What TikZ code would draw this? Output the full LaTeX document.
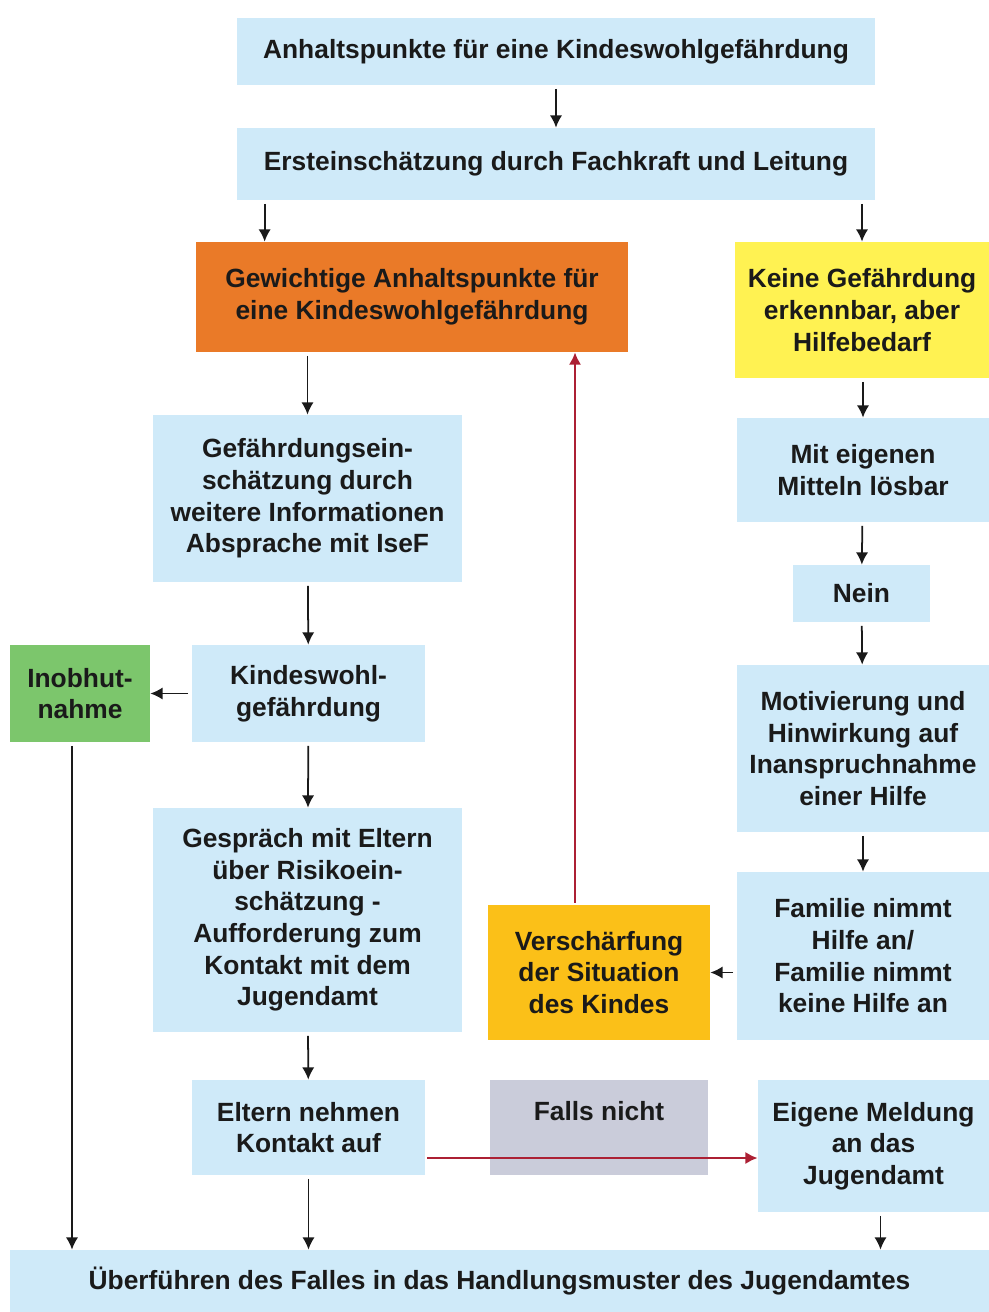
\documentclass[tikz,border=0pt]{standalone}
\usepackage{fontspec}
\setmainfont{Liberation Sans}
\usetikzlibrary{arrows.meta}

\definecolor{hellblau}{RGB}{207,234,249}
\definecolor{dunkelorange}{RGB}{234,122,40}
\definecolor{hellgelb}{RGB}{255,242,82}
\definecolor{goldgelb}{RGB}{251,192,24}
\definecolor{gruen}{RGB}{124,198,108}
\definecolor{grau}{RGB}{202,204,218}
\definecolor{rotlinie}{RGB}{172,32,52}
\definecolor{schrift}{RGB}{26,26,26}

\tikzset{
    kasten/.style={fill=hellblau, text=schrift, align=center, inner sep=0pt,
        font=\bfseries\fontsize{15}{18}\selectfont},
    pfeil/.style={->, line width=1pt, draw=schrift, shorten <=2pt},
    rotpfeil/.style={->, line width=1.3pt, draw=rotlinie, shorten <=1pt},
}

\begin{document}
\begin{tikzpicture}[>={Latex[length=7pt,width=7pt]}]
            \useasboundingbox (0,0) rectangle (19.78,-26.24);

            % linke Spalte
            \node[kasten, minimum width=12.76cm, minimum height=1.34cm] (anhalt) at (11.12,-1.03) {Anhaltspunkte für eine Kindeswohlgefährdung};
            \node[kasten, minimum width=12.76cm, minimum height=1.44cm] (erst) at (11.12,-3.28) {Ersteinschätzung durch Fachkraft und Leitung};
            \node[kasten, fill=dunkelorange, minimum width=8.64cm, minimum height=2.2cm] (gewichtig) at (8.24,-5.94) {Gewichtige Anhaltspunkte für\\eine Kindeswohlgefährdung};
            \node[kasten, minimum width=6.18cm, minimum height=3.34cm] (einschaetzung) at (6.15,-9.97) {Gefährdungsein-\\schätzung durch\\weitere Informationen\\Absprache mit IseF};
            \node[kasten, fill=gruen, minimum width=2.8cm, minimum height=1.94cm] (inobhut) at (1.6,-13.87) {Inobhut-\\nahme};
            \node[kasten, minimum width=4.66cm, minimum height=1.94cm] (kwg) at (6.17,-13.87) {Kindeswohl-\\gefährdung};
            \node[kasten, minimum width=6.18cm, minimum height=4.48cm] (gespraech) at (6.15,-18.4) {Gespräch mit Eltern\\über Risikoein-\\schätzung -\\Aufforderung zum\\Kontakt mit dem\\Jugendamt};
            \node[kasten, minimum width=4.66cm, minimum height=1.9cm] (eltern) at (6.17,-22.55) {Eltern nehmen\\Kontakt auf};

            % Mitte
            \node[kasten, fill=goldgelb, minimum width=4.44cm, minimum height=2.7cm] (verschaerfung) at (11.98,-19.45) {Verschärfung\\der Situation\\des Kindes};
            \node[kasten, fill=grau, minimum width=4.36cm, text height=0.8cm, text depth=1.1cm] (falls) at (11.98,-22.55) {Falls nicht};

            % rechte Spalte
            \node[kasten, fill=hellgelb, minimum width=5.08cm, minimum height=2.72cm] (keine) at (17.24,-6.2) {Keine Gefährdung\\erkennbar, aber\\Hilfebedarf};
            \node[kasten, minimum width=5.04cm, minimum height=2.08cm] (mittel) at (17.26,-9.4) {Mit eigenen\\Mitteln lösbar};
            \node[kasten, minimum width=2.74cm, minimum height=1.14cm] (nein) at (17.23,-11.87) {Nein};
            \node[kasten, minimum width=5.04cm, minimum height=3.34cm] (motivierung) at (17.26,-14.97) {Motivierung und\\Hinwirkung auf\\Inanspruchnahme\\einer Hilfe};
            \node[kasten, minimum width=5.04cm, minimum height=3.36cm] (familie) at (17.26,-19.12) {Familie nimmt\\Hilfe an/\\Familie nimmt\\keine Hilfe an};
            \node[kasten, minimum width=4.62cm, minimum height=2.64cm] (meldung) at (17.47,-22.92) {Eigene Meldung\\an das\\Jugendamt};

            \node[kasten, minimum width=19.58cm, minimum height=1.24cm] (ueberfuehren) at (9.99,-25.62) {Überführen des Falles in das Handlungsmuster des Jugendamtes};

            \coordinate (gewlinks) at ([xshift=1.38cm]gewichtig.north west);
            \coordinate (verschoben) at ([xshift=-0.48cm]verschaerfung.north);
            \coordinate (elternrechts) at ([yshift=-0.61cm]eltern.east);

            \draw[pfeil] (anhalt) -- (erst);
            \draw[pfeil] (erst.south -| gewlinks) -- (gewlinks);
            \draw[pfeil] (erst.south -| keine.north) -- (keine.north);
            \draw[pfeil] (gewichtig.south -| einschaetzung.north) -- (einschaetzung.north);
            \draw[pfeil] (einschaetzung) -- (kwg);
            \draw[pfeil] (kwg) -- (inobhut);
            \draw[pfeil] (kwg) -- (gespraech);
            \draw[pfeil] (gespraech) -- (eltern);
            \draw[pfeil] (eltern.south) -- (eltern.south |- ueberfuehren.north);
            \draw[pfeil] ([xshift=-0.16cm]inobhut.south) -- ([xshift=-0.16cm]inobhut.south |- ueberfuehren.north);
            \draw[pfeil] ([xshift=0.14cm]meldung.south) -- ([xshift=0.14cm]meldung.south |- ueberfuehren.north);

            \draw[pfeil] (keine.south -| mittel.north) -- (mittel.north);
            \draw[pfeil] (mittel) -- (nein);
            \draw[pfeil] (nein) -- (motivierung);
            \draw[pfeil] (motivierung) -- (familie);
            \draw[pfeil] (familie.west |- verschaerfung.east) -- (verschaerfung.east);

            \draw[rotpfeil] (verschoben) -- (verschoben |- gewichtig.south);
            \draw[rotpfeil] (elternrechts) -- (elternrechts -| meldung.west);
        \end{tikzpicture}
\end{document}
